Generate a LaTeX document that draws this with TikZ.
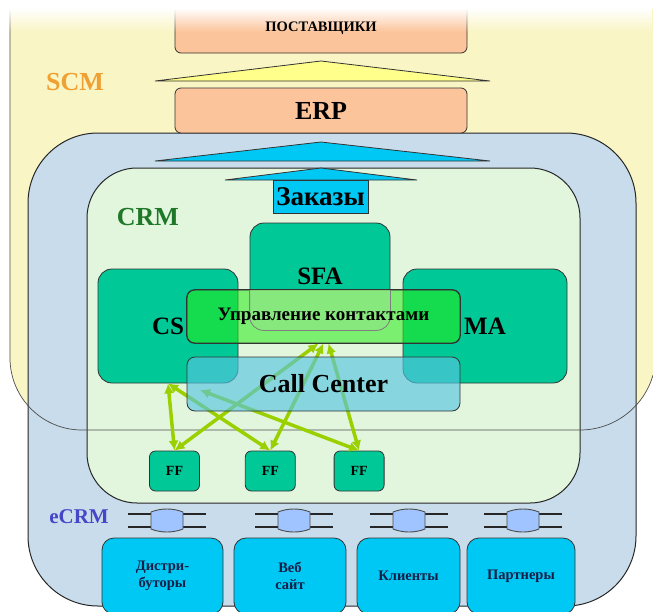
\documentclass[tikz,border=0pt]{standalone}
\usepackage{xcolor}
\usepackage{fontspec}
\setmainfont{Liberation Serif}
\usetikzlibrary{arrows.meta, positioning, fadings}
\definecolor{scmyellow}{RGB}{250,245,196}
\definecolor{ecrmblue}{RGB}{200,220,235}
\definecolor{crmgreen}{RGB}{226,246,222}
\definecolor{salmon}{RGB}{252,196,154}
\definecolor{tealbox}{RGB}{0,200,150}
\definecolor{cyanbox}{RGB}{0,200,245}
\definecolor{paleyellow}{RGB}{255,255,140}
\definecolor{limegreen}{RGB}{40,235,20}
\definecolor{palelime}{RGB}{135,232,125}
\definecolor{callcyan}{RGB}{85,196,224}
\definecolor{arrowgreen}{RGB}{155,208,0}
\definecolor{padblue}{RGB}{160,196,255}
\definecolor{scmorange}{RGB}{240,160,50}
\definecolor{crmdark}{RGB}{30,120,40}
\definecolor{ecrmviolet}{RGB}{70,70,200}
\definecolor{navytext}{RGB}{25,30,70}
\tikzset{
  erpbox/.style={rectangle, draw=black!80, fill=salmon, rounded corners=6pt,
    line width=0.8pt, minimum width=292pt, inner sep=0pt},
  module/.style={rectangle, draw=black!80, fill=tealbox, rounded corners=14pt,
    line width=0.8pt, inner sep=0pt, font=\bfseries\fontsize{25}{27}\selectfont},
  bar/.style={rectangle, draw=black!80, rounded corners=8pt, line width=0.8pt,
    minimum width=273pt, inner sep=0pt, text opacity=1},
  ffbox/.style={rectangle, draw=black!80, fill=tealbox, rounded corners=6pt,
    line width=0.8pt, minimum width=50pt, minimum height=40pt, inner sep=0pt,
    font=\bfseries\fontsize{14}{16}\selectfont},
  channel/.style={rectangle, draw=black!80, fill=cyanbox, rounded corners=12pt,
    line width=0.8pt, minimum height=76pt, inner sep=0pt, align=center,
    text=navytext, font=\bfseries\fontsize{14.5}{17}\selectfont},
  flow/.style={{Latex[length=10pt,width=10pt]}-{Latex[length=10pt,width=10pt]},
    line width=3.5pt, color=arrowgreen},
  bigtag/.style={font=\bfseries\fontsize{26}{28}\selectfont},
  frame/.style={draw=black!85, line width=1pt},
  linkbar/.style={line width=1.4pt, color=black!85},
  linkpad/.style={fill=padblue, draw=black!70, line width=0.9pt}
}

\begin{document}
\begin{tikzpicture}[x=1pt, y=-1pt]
  \useasboundingbox (0,0) rectangle (653,611);

  % SCM zone
  \fill[scmyellow] (10,-5) -- (10,358) arc[start angle=180, end angle=90, radius=72]
    -- (580,430) arc[start angle=90, end angle=16.2, radius=76] -- (653,-5) -- cycle;

  % eCRM and CRM zones
  \draw[frame, fill=ecrmblue, rounded corners=70pt] (28,133) rectangle (636,606);
  \draw[frame, fill=crmgreen, rounded corners=50pt] (87,168) rectangle (580,503);
  \draw[black!70, line width=0.7pt] (10,-5) -- (10,358) arc[start angle=180, end angle=90, radius=72]
    -- (580,430) arc[start angle=90, end angle=16.2, radius=76];

  % Supply chain
  \node[erpbox, minimum height=52pt] (supp) at (321,27) {};
  \fill[white] (0,-1) rectangle (653,9);
  \fill[white, path fading=south] (0,8) rectangle (653,32);
  \node[font=\bfseries\fontsize{14.5}{16}\selectfont] (supptext) at (321,28) {ПОСТАВЩИКИ};
  \draw[fill=paleyellow, draw=black!80, line width=0.8pt] (155,81) -- (321,61) -- (490,81) -- cycle;
  \node[erpbox, minimum height=45pt, bigtag] (erp) at (321,110.5) {ERP};
  \draw[fill=cyanbox, draw=black!80, line width=0.8pt] (155,161) -- (321,142) -- (490,161) -- cycle;
  \draw[fill=cyanbox, draw=black!80, line width=0.8pt] (225,180) -- (321,168) -- (417,180) -- cycle;
  \node[rectangle, draw=black!80, fill=cyanbox, line width=0.8pt, minimum width=95pt,
    minimum height=33pt, inner sep=0pt, font=\bfseries\fontsize{27}{29}\selectfont] (orders) at (320.5,196.5) {Заказы};

  % Zone labels
  \node[bigtag, text=scmorange] (scm) at (75,82) {SCM};
  \node[bigtag, text=crmdark] (crm) at (148,217) {CRM};
  \node[font=\bfseries\fontsize{21}{24}\selectfont, text=ecrmviolet] (ecrm) at (79,517) {eCRM};

  % CRM modules
  \node[module, minimum width=140pt, minimum height=107pt] (sfa) at (320,276.5) {SFA};
  \node[module, minimum width=140pt, minimum height=114pt] (cs) at (168,326) {CS};
  \node[module, minimum width=164pt, minimum height=114pt] (ma) at (485,326) {MA};

  \node[bar, fill=limegreen, fill opacity=0.55, minimum height=53pt] (contacts) at (323.5,316.5) {};
  \begin{scope}
    \clip[rounded corners=8pt] (contacts.south west) rectangle (contacts.north east);
    \draw[fill=palelime, draw=black!50, line width=0.8pt, rounded corners=14pt] (sfa.south west) rectangle (sfa.north east);
  \end{scope}
  \draw[black!80, line width=0.8pt, rounded corners=8pt] (contacts.south west) rectangle (contacts.north east);
  \node[font=\bfseries\fontsize{19}{21}\selectfont] (contactstext) at (contacts) {Управление контактами};

  % Field force
  \node[ffbox] (ff1) at (174.5,471) {FF};
  \node[ffbox, right=45pt of ff1] (ff2) {FF};
  \node[ffbox, right=38pt of ff2] (ff3) {FF};

  \coordinate (ccin) at (200,390);
  \draw[flow] (cs.south) -- (ff1.north);
  \draw[flow] (cs.south) -- (ff2.north);
  \draw[flow] ([xshift=-5pt]contacts.south) -- (ff1.north);
  \draw[flow] (contacts.south) -- (ff2.north);
  \draw[flow] ([xshift=5pt]contacts.south) -- (ff3.north);
  \draw[flow] (ccin) -- (ff3.north);

  \node[bar, fill=callcyan, fill opacity=0.65, minimum height=54pt, bigtag] (callc) at (323.5,384) {Call Center};

  % eCRM channels
  \foreach \cx in {167,294,409,523} {
    \draw[linkbar] (\cx-39,514) -- (\cx+39,514) (\cx-39,527) -- (\cx+39,527);
    \draw[linkpad] (\cx-16,512) -- (\cx-16,529) .. controls (\cx-6,533) and (\cx+6,533) .. (\cx+16,529)
      -- (\cx+16,512) .. controls (\cx+6,508) and (\cx-6,508) .. cycle;
  }
  \node[channel, minimum width=121pt] (dist) at (162.5,576) {Дистри-\\буторы};
  \node[channel, minimum width=112pt] (web) at (290,576) {Веб\\сайт};
  \node[channel, minimum width=103pt] (cli) at (408.5,576) {Клиенты};
  \node[channel, minimum width=108pt] (part) at (521,576) {Партнеры};
\end{tikzpicture}
\end{document}
